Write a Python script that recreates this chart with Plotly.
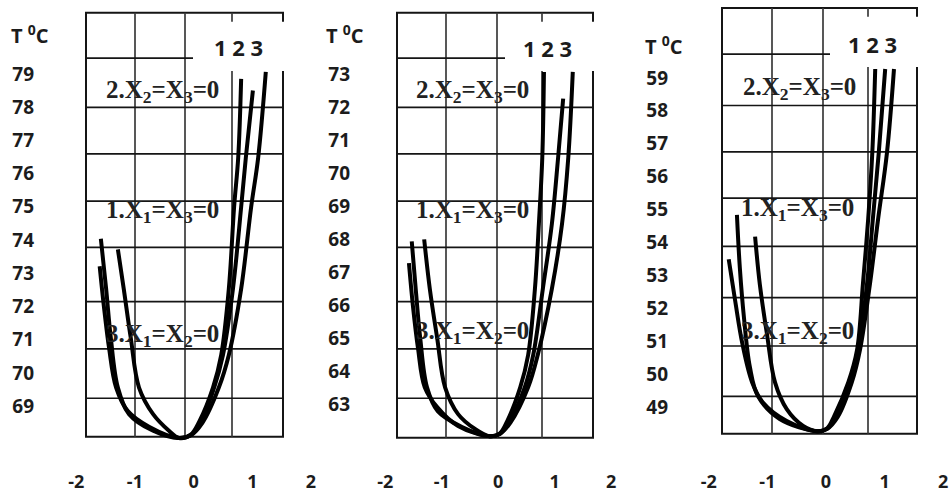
import plotly.graph_objects as go

W, H = 952, 493

# ---------------- data ----------------
x_tick_vals = [-2, -1, 0, 1, 2]
t_ticks_p1 = [69, 70, 71, 72, 73, 74, 75, 76, 77, 78, 79]
t_ticks_p2 = [63, 64, 65, 66, 67, 68, 69, 70, 71, 72, 73]
t_ticks_p3 = [49, 50, 51, 52, 53, 54, 55, 56, 57, 58, 59]
curve_names = "1 2 3"
eq_labels = ["2.X<sub>2</sub>=X<sub>3</sub>=0",
             "1.X<sub>1</sub>=X<sub>3</sub>=0",
             "3.X<sub>1</sub>=X<sub>2</sub>=0"]
y_title = "T <sup>0</sup>C"

# panel 1
p1_x1 = [-1.29, -1.19, -1.07, -0.93, -0.69, -0.42, -0.25, -0.05, 0.10, 0.33, 0.47, 0.60, 0.69, 0.76, 0.81]
p1_t1 = [73.72, 72.53, 71.05, 69.56, 68.76, 68.26, 68.04, 68.14, 68.55, 69.56, 70.54, 72.53, 74.99, 76.48, 78.85]
p1_x2 = [-1.58, -1.49, -1.41, -1.29, -1.10, -0.69, -0.25, -0.05, 0.12, 0.35, 0.50, 0.67, 0.81, 0.89, 1.01]
p1_t2 = [74.04, 72.53, 71.05, 69.56, 68.76, 68.26, 68.04, 68.12, 68.50, 69.56, 70.54, 72.53, 74.99, 76.48, 78.50]
p1_x3 = [-1.60, -1.53, -1.44, -1.32, -1.12, -0.76, -0.25, -0.05, 0.15, 0.43, 0.60, 0.81, 0.98, 1.10, 1.23]
p1_t3 = [73.21, 72.03, 70.75, 69.56, 68.85, 68.38, 68.04, 68.12, 68.50, 69.56, 70.54, 72.53, 74.99, 76.48, 79.06]

# panel 2
p2_x1 = [-1.31, -1.21, -1.08, -0.94, -0.71, -0.41, -0.15, 0.03, 0.16, 0.39, 0.53, 0.65, 0.72, 0.78, 0.81]
p2_t1 = [67.99, 66.49, 65.00, 63.51, 62.70, 62.25, 62.03, 62.12, 62.49, 63.51, 64.49, 66.49, 68.46, 70.46, 73.06]
p2_x2 = [-1.53, -1.46, -1.38, -1.26, -1.07, -0.64, -0.15, 0.03, 0.19, 0.47, 0.62, 0.79, 0.95, 1.06, 1.15]
p2_t2 = [67.93, 66.49, 65.00, 63.51, 62.79, 62.31, 62.03, 62.10, 62.45, 63.51, 64.49, 66.49, 68.46, 70.46, 72.25]
p2_x3 = [-1.58, -1.51, -1.42, -1.30, -1.08, -0.71, -0.15, 0.03, 0.22, 0.53, 0.70, 0.95, 1.13, 1.24, 1.32]
p2_t3 = [67.27, 65.99, 64.70, 63.51, 62.91, 62.34, 62.03, 62.10, 62.45, 63.51, 64.49, 66.49, 68.46, 70.46, 73.06]

# panel 3
p3_x1 = [-1.21, -1.13, -1.01, -0.87, -0.67, -0.39, -0.15, 0.02, 0.14, 0.38, 0.53, 0.63, 0.72, 0.79, 0.84]
p3_t1 = [54.18, 52.74, 51.25, 49.75, 48.94, 48.43, 48.27, 48.36, 48.73, 49.75, 50.74, 52.74, 54.72, 56.72, 59.27]
p3_x2 = [-1.52, -1.47, -1.40, -1.30, -1.16, -0.79, -0.15, 0.02, 0.17, 0.41, 0.55, 0.70, 0.80, 0.90, 1.01]
p3_t2 = [54.84, 53.22, 51.72, 50.23, 49.33, 48.64, 48.27, 48.34, 48.70, 49.75, 50.74, 52.74, 54.72, 56.72, 59.27]
p3_x3 = [-1.66, -1.55, -1.43, -1.26, -1.08, -0.67, -0.15, 0.02, 0.20, 0.44, 0.58, 0.75, 0.89, 1.04, 1.16]
p3_t3 = [53.49, 52.23, 50.95, 49.75, 49.15, 48.58, 48.27, 48.34, 48.70, 49.75, 50.74, 52.74, 54.72, 56.72, 59.27]

panels_data = [
    ([(p1_x1, p1_t1), (p1_x2, p1_t2), (p1_x3, p1_t3)], t_ticks_p1),
    ([(p2_x1, p2_t1), (p2_x2, p2_t2), (p2_x3, p2_t3)], t_ticks_p2),
    ([(p3_x1, p3_t1), (p3_x2, p3_t2), (p3_x3, p3_t3)], t_ticks_p3),
]

# ---------------- layout (pixel geometry) ----------------
# x calibration: (px of x=0, px per unit); t calibration: (t_ref, py of t_ref, px per degree)
layout_spec = [
    dict(xcal=(193.6, 58.7), tcal=(79, 75, 33.7), xdom=(0, 320), ypos=34,
         box=(86, 283, 13, 443), vg=[135, 185, 232], hg=[59, 109, 156, 204, 251, 306, 354, 404],
         cut=(193, 292, 22, 72), ttl=(9, 35), nums=(238, 48),
         eq=[(104, 93), (104, 215), (104, 340)]),
    dict(xcal=(498.2, 56.5), tcal=(73, 75, 33.5), xdom=(320, 636), ypos=350,
         box=(397, 593, 13, 444), vg=[446, 497, 542], hg=[59, 109, 156, 204, 251, 306, 354, 404],
         cut=(505, 602, 22, 72), ttl=(324, 35), nums=(547, 49),
         eq=[(414, 93), (414, 215), (414, 337)]),
    dict(xcal=(826.0, 58.6), tcal=(59, 79, 33.4), xdom=(636, 952), ypos=668,
         box=(722, 917, 8, 440), vg=[772, 823, 868], hg=[55, 107, 154, 201, 250, 302, 351, 402],
         cut=(830, 927, 17, 68), ttl=(643, 46), nums=(872, 45),
         eq=[(741, 90), (739, 213), (739, 337)]),
]

TXT = "#1c1c1c"
SANS = "Open Sans"
SERIF = "Liberation Serif"


def fx(px):
    return px / W


def fy(py):
    return 1 - py / H


fig = go.Figure()
shapes = []
annotations = []
layout_axes = {}

for i, ((curves, tticks), sp) in enumerate(zip(panels_data, layout_spec)):
    n = i + 1
    xa = "x" if n == 1 else f"x{n}"
    ya = "y" if n == 1 else f"y{n}"
    xkey = "xaxis" if n == 1 else f"xaxis{n}"
    ykey = "yaxis" if n == 1 else f"yaxis{n}"

    for cx, ct in curves:
        fig.add_trace(go.Scatter(x=cx, y=ct, mode="lines", xaxis=xa, yaxis=ya,
                                 line=dict(color="black", width=4, shape="spline", smoothing=1.0),
                                 showlegend=False, hoverinfo="skip"))

    x0p, scale = sp["xcal"]
    tref, pyref, tscale = sp["tcal"]
    xr = [(sp["xdom"][0] - x0p) / scale, (sp["xdom"][1] - x0p) / scale]
    tr = [tref - (H - pyref) / tscale, tref + pyref / tscale]

    layout_axes[xkey] = dict(domain=[fx(sp["xdom"][0]), fx(sp["xdom"][1])], range=xr,
                             anchor="free", position=fy(476),
                             tickvals=x_tick_vals, ticktext=[str(v) for v in x_tick_vals],
                             showgrid=False, zeroline=False, showline=False, ticks="",
                             tickfont=dict(family=SANS, size=18, color=TXT, weight="bold"))
    layout_axes[ykey] = dict(domain=[0, 1], range=tr, anchor="free", position=fx(sp["ypos"]),
                             tickvals=tticks, showgrid=False, zeroline=False, showline=False, ticks="",
                             tickfont=dict(family=SANS, size=19, color=TXT, weight="bold"))

    # grid box
    bx0, bx1, by0, by1 = sp["box"]
    shapes.append(dict(type="rect", xref="paper", yref="paper", x0=fx(bx0), x1=fx(bx1),
                       y0=fy(by1), y1=fy(by0), line=dict(color="#151515", width=2), layer="below"))
    for v in sp["vg"]:
        shapes.append(dict(type="line", xref="paper", yref="paper", x0=fx(v), x1=fx(v),
                           y0=fy(by1), y1=fy(by0), line=dict(color="#3a3a3a", width=1.7), layer="below"))
    for h in sp["hg"]:
        shapes.append(dict(type="line", xref="paper", yref="paper", x0=fx(bx0), x1=fx(bx1),
                           y0=fy(h), y1=fy(h), line=dict(color="#151515", width=1.7), layer="below"))
    # white cut-out behind the curve numbers
    cx0, cx1, cy0, cy1 = sp["cut"]
    shapes.append(dict(type="rect", xref="paper", yref="paper", x0=fx(cx0), x1=fx(cx1),
                       y0=fy(cy1), y1=fy(cy0), line=dict(width=0), fillcolor="white", layer="above"))

    annotations.append(dict(text=y_title, xref="paper", yref="paper", x=fx(sp["ttl"][0]), y=fy(sp["ttl"][1]),
                            xanchor="left", yanchor="middle", showarrow=False,
                            font=dict(family=SANS, size=20, color=TXT, weight="bold")))
    annotations.append(dict(text=curve_names, xref="paper", yref="paper", x=fx(sp["nums"][0]), y=fy(sp["nums"][1]),
                            xanchor="center", yanchor="middle", showarrow=False,
                            font=dict(family=SANS, size=22, color=TXT, weight="bold")))
    for lab, (ex, ey) in zip(eq_labels, sp["eq"]):
        annotations.append(dict(text=lab, xref="paper", yref="paper", x=fx(ex), y=fy(ey),
                                xanchor="left", yanchor="middle", showarrow=False,
                                font=dict(family=SERIF, size=25, color="#222222", weight="bold")))

fig.update_layout(width=W, height=H, margin=dict(l=0, r=0, t=0, b=0),
                  paper_bgcolor="white", plot_bgcolor="rgba(0,0,0,0)",
                  shapes=shapes, annotations=annotations, showlegend=False, **layout_axes)

fig.write_html("out.html")
